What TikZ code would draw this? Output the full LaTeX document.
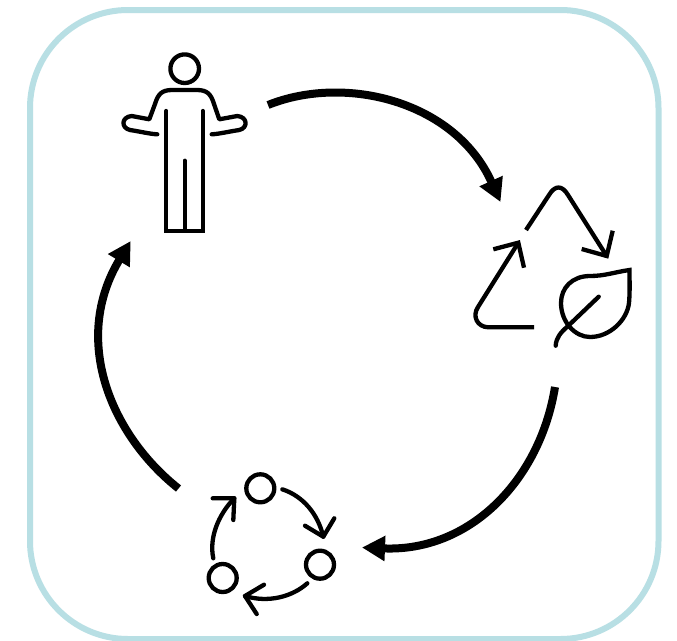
\documentclass[tikz,border=0pt]{standalone}
\usetikzlibrary{arrows.meta}
\definecolor{frameteal}{HTML}{B8DFE4}
\tikzset{
  frameline/.style={draw=frameteal,line width=6pt},
  flowarc/.style={line width=8pt,-{Triangle[length=23pt,width=24pt]}},
  icon/.style={line width=4.3pt,line cap=round,line join=round},
  iconflat/.style={line width=4.3pt,line cap=butt,line join=miter},
}
\begin{document}
\begin{tikzpicture}[x=1pt,y=-1pt]
\useasboundingbox (0,0) rectangle (677,640);
\clip (0,0) rectangle (677,640);
\fill[white] (0,0) rectangle (677,640);
\draw[frameline,rounded corners=98pt] (30,10) rectangle (658.5,639);
% named ends of the three big arcs
\coordinate (personOut) at (268,105);
\coordinate (recycleIn) at (500.5,202);
\coordinate (recycleOut) at (555,387);
\coordinate (cycleIn) at (362,547.5);
\coordinate (cycleOut) at (178.5,488.5);
\coordinate (personIn) at (130.7,241);
\draw[flowarc] (personOut) .. controls (345,74) and (455,101) .. (recycleIn);
\draw[flowarc] (recycleOut) .. controls (540,480) and (470,552) .. (cycleIn);
\draw[flowarc] (cycleOut) .. controls (111,435) and (71,340) .. (personIn);
% person
\draw[icon] (184.7,68.7) circle (14.3);
\draw[icon] (157.3,134.3) .. controls (150,134) and (140,131.5) .. (130,130)
  .. controls (121,128) and (121,117) .. (131.7,116)
  -- (149.3,119.3) -- (155,104) .. controls (158,94) and (162,90) .. (172,90)
  -- (197,90) .. controls (207,90) and (211,94) .. (214,104)
  -- (219.3,119.3) -- (237.3,116)
  .. controls (248,117) and (248,128) .. (239.3,130)
  .. controls (229,131.5) and (219,134) .. (211.7,134.3);
\draw[icon,line join=miter] (166.3,111) -- (166.3,230.7) -- (202.7,230.7) -- (202.7,111);
\draw[icon] (184.7,160.7) -- (184.7,230.7);
% recycle
\draw[iconflat] (526,230) -- (549,195) .. controls (555,185) and (562,185) .. (568,195) -- (606.7,256);
\draw[iconflat] (581.7,249) -- (606.7,256) -- (612.7,230.7);
\draw[iconflat] (534,327.3) -- (488.3,327.3) .. controls (477,327) and (472,316) .. (478,307) -- (518.3,242.7);
\draw[iconflat] (493.3,249.3) -- (518.3,242.7) -- (524,267.7);
% leaf
\draw[iconflat] (629.5,270) .. controls (615,272) and (605,276) .. (590,276)
  .. controls (572,276) and (561,288) .. (561,303)
  .. controls (561,322) and (575,337) .. (590,337)
  .. controls (610,337) and (627,320) .. (629,303)
  .. controls (630,292) and (629.5,280) .. cycle;
\draw[icon] (598.7,296.7) -- (567.3,326.7) .. controls (561,332) and (556,338) .. (555.7,345.7);
% small cycle
\draw[icon] (260.3,488.3) circle (14);
\draw[icon] (320,564.7) circle (14);
\draw[icon] (222.7,578) circle (14);
\draw[icon] (282.3,489.3) .. controls (303,496) and (318,514) .. (323.3,536.7);
\draw[icon] (305,525.7) -- (323.3,536.7) -- (334.3,518.3);
\draw[icon] (307.3,583.3) .. controls (292,597) and (268,603) .. (245,596);
\draw[icon] (264,584.7) -- (245,596) -- (256.7,614);
\draw[icon] (213.3,558.3) .. controls (209,538) and (218,515) .. (234.3,498.3);
\draw[icon] (212.7,498.3) -- (234.3,498.3) -- (233.3,520);
\end{tikzpicture}
\end{document}
